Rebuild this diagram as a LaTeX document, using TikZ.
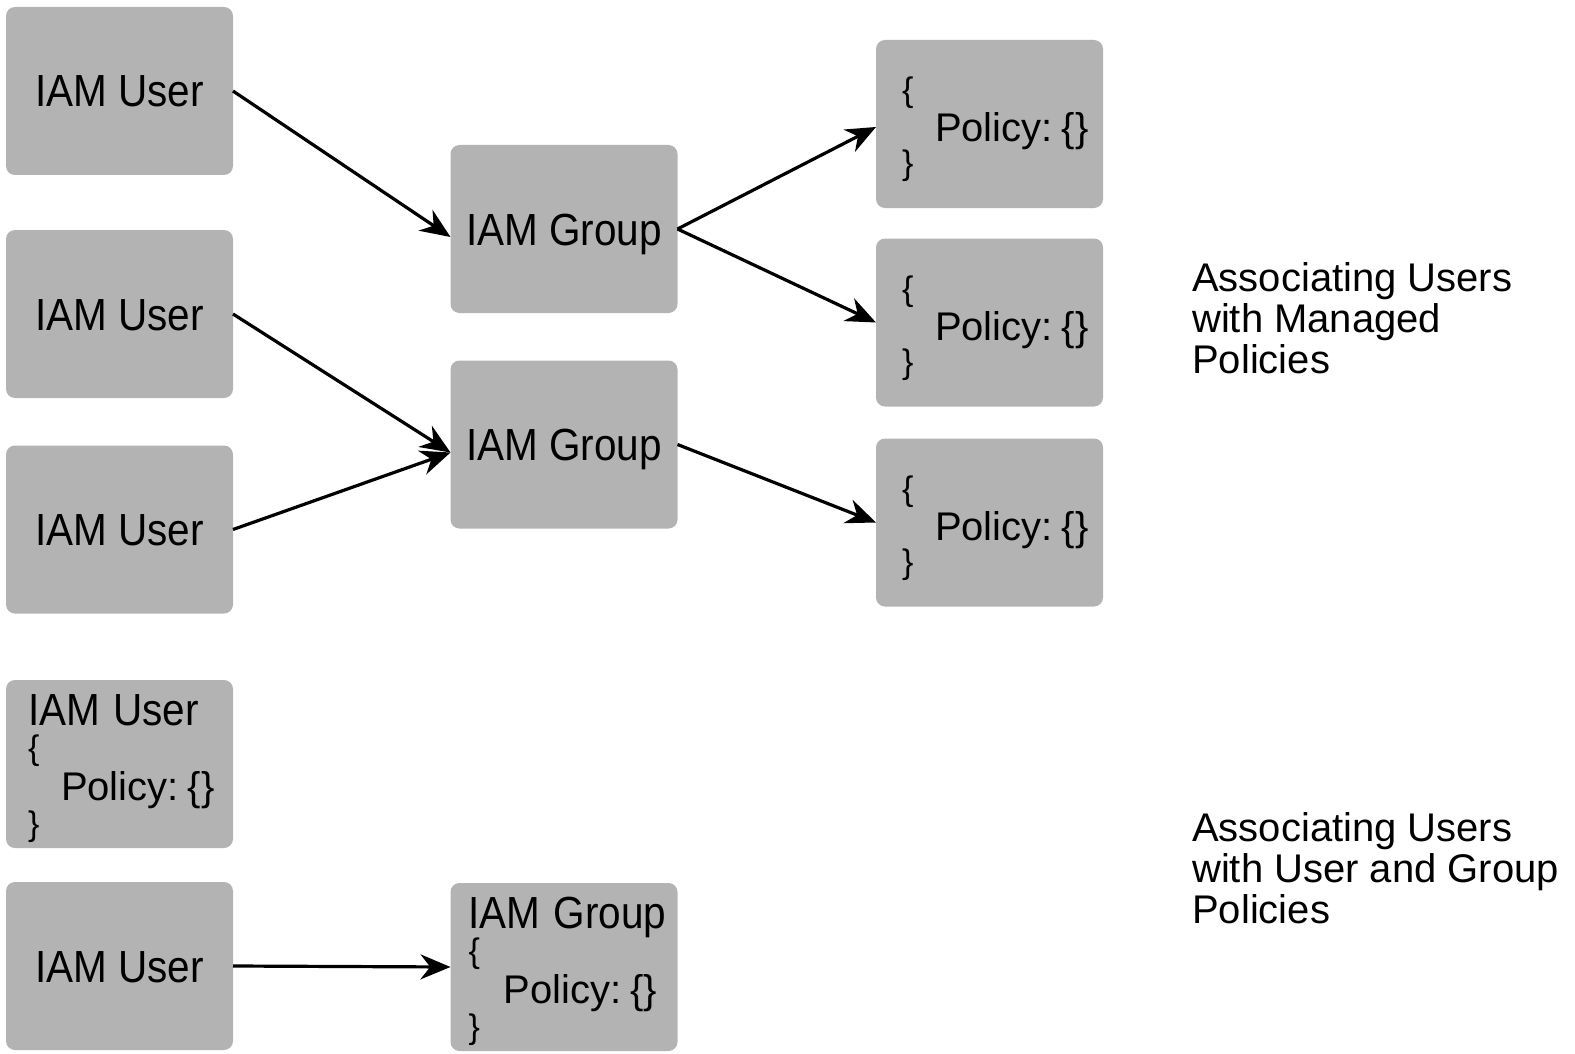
\documentclass[tikz,border=0pt]{standalone}
\usepackage{fontspec}
\setmainfont{Liberation Sans}
\newfontfamily\condfont{Liberation Sans}[FakeStretch=0.9]
\usetikzlibrary{arrows.meta}
\definecolor{boxgray}{RGB}{179,179,179}
\setlength{\lineskiplimit}{-100pt}
\newcommand{\bro}{{\fontsize{34}{37}\selectfont\{}}
\newcommand{\brc}{{\fontsize{34}{37}\selectfont\}}}
\newcommand{\polline}[1]{\mbox{\hspace*{#1}\fontsize{40}{37}\selectfont Policy:\hspace{9pt}\{\}}}
\newcommand{\headline}[1]{\mbox{\condfont\fontsize{45}{37}\selectfont #1}}
\begin{document}
\begin{tikzpicture}[x=1pt,y=-1pt,
  box/.style={fill=boxgray, rounded corners=9pt, minimum width=227pt, minimum height=168pt, inner sep=0pt, outer sep=0pt},
  single/.style={box, font=\condfont\fontsize{45}{54}\selectfont, text height=32pt, text depth=0pt},
  multi/.style={box, align=left, text width=185pt, inner xsep=21pt, inner ysep=0pt,
    font=\fontsize{40}{37}\selectfont},
  polbox/.style={multi, inner xsep=26pt, text width=175pt},
  link/.style={line width=3.2pt, -{Stealth[length=30pt,width=25pt]}},
  caption/.style={align=left, anchor=north west, inner sep=0pt,
    font=\fontsize{40}{41}\selectfont}
]
\useasboundingbox (0,0) rectangle (1575,1054);

% users
\node[single] (u1) at (119.5,91) {IAM User};
\node[single] (u2) at (119.5,314) {IAM User};
\node[single] (u3) at (119.5,529.5) {IAM User};
\node[multi, inner xsep=22pt, text width=183pt] (u4) at (119.5,764) {\rule{0pt}{41pt}\headline{IAM User}\\[-3pt] \bro\\[4pt] \polline{33pt}\\[-2pt] \brc};
\node[single] (u5) at (119.5,966) {IAM User};

% groups
\node[single] (g1) at (564,229) {IAM Group};
\node[single] (g2) at (564,444.5) {IAM Group};
\node[multi, inner xsep=18pt, text width=191pt] (g3) at (564,967) {\rule{0pt}{41pt}\headline{IAM Group}\\[-3pt] \bro\\[4pt] \polline{35pt}\\[-2pt] \brc};

% policies
\node[polbox] (p1) at (989.5,124) {\rule{0pt}{36pt}\bro\\[3pt] \polline{33pt}\\[-4pt] \brc};
\node[polbox] (p2) at (989.5,322.5) {\rule{0pt}{36pt}\bro\\[3pt] \polline{33pt}\\[-4pt] \brc};
\node[polbox] (p3) at (989.5,522.5) {\rule{0pt}{36pt}\bro\\[3pt] \polline{33pt}\\[-4pt] \brc};

% captions
\node[caption] (c1) at (1192,262) {Associating Users\\ with Managed\\ Policies};
\node[caption] (c2) at (1192,812) {Associating Users\\ with User and Group\\ Policies};

% connectors
\draw[link] (u1.east) -- ([yshift=-8pt]g1.west);
\draw[link] (u2.east) -- ([yshift=-8pt]g2.west);
\draw[link] (u3.east) -- ([yshift=-8pt]g2.west);
\draw[link] (g1.east) -- ([yshift=-3pt]p1.west);
\draw[link] (g1.east) -- (p2.west);
\draw[link] (g2.east) -- (p3.west);
\draw[link] (u5.east) -- (g3.west);
\end{tikzpicture}
\end{document}
